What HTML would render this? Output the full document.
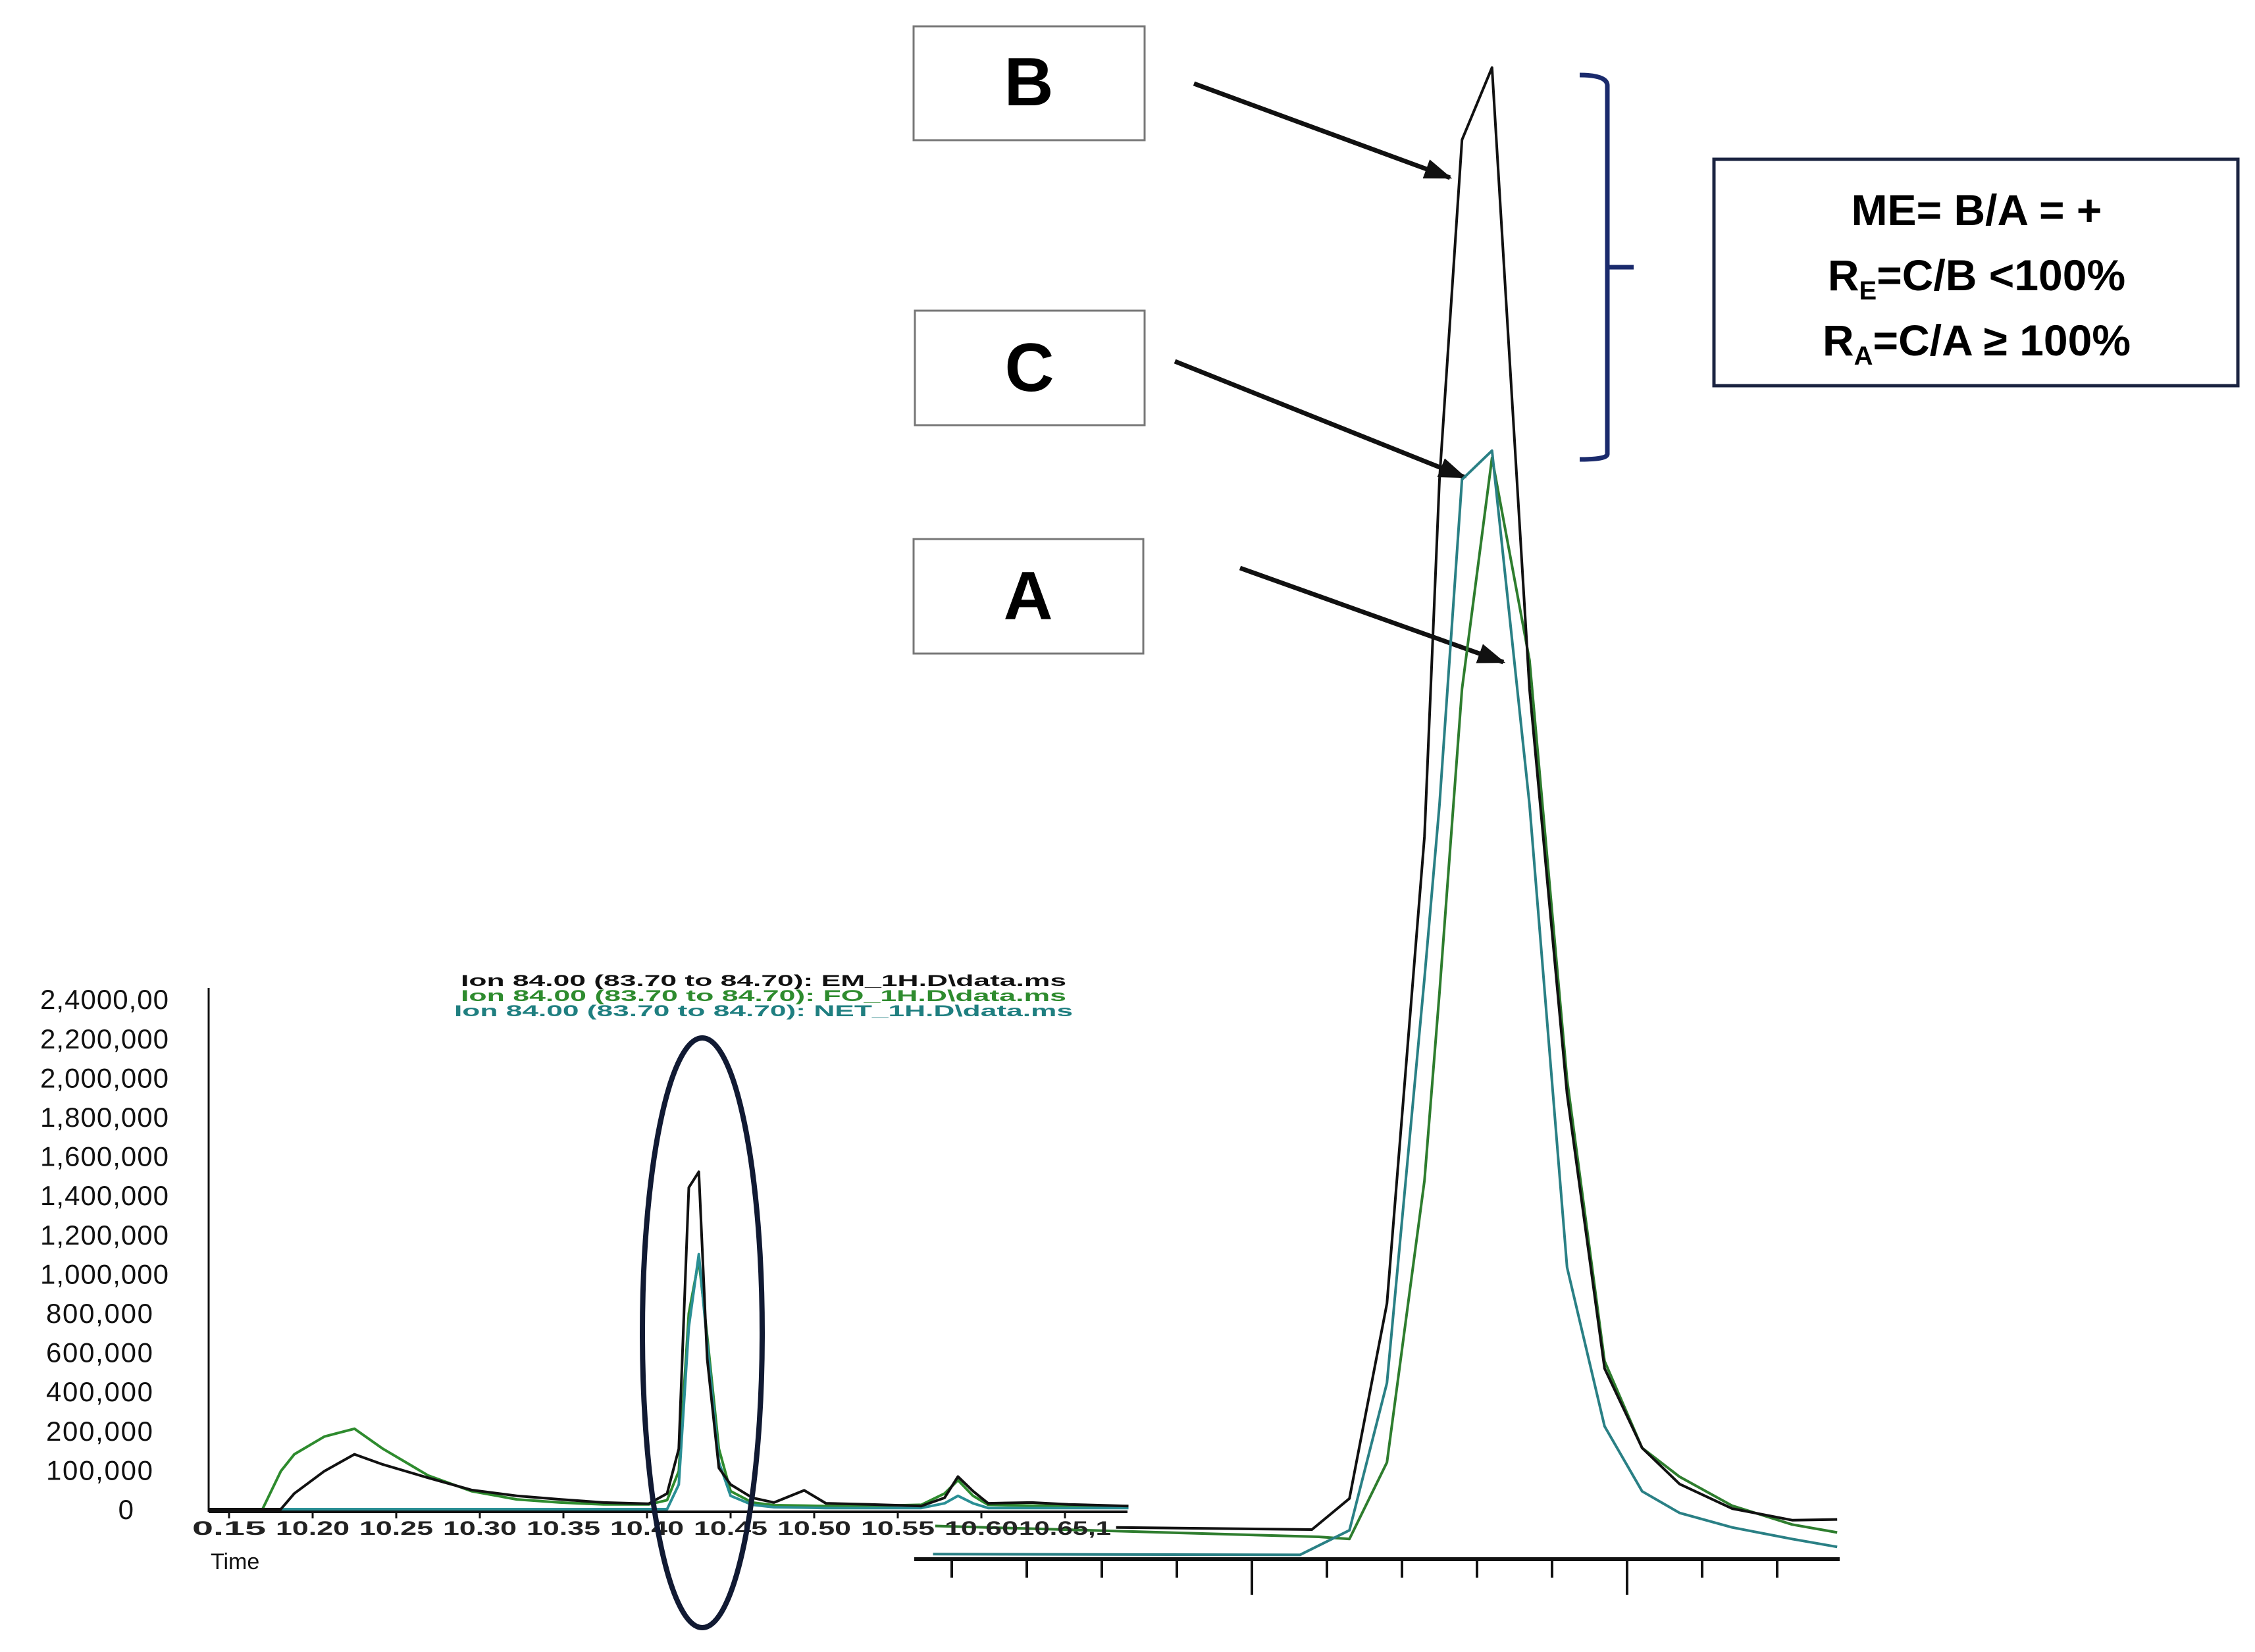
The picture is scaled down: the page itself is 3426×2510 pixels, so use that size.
<!DOCTYPE html>
<html><head><meta charset="utf-8">
<style>
html,body{margin:0;padding:0;background:#fff;}
svg{display:block;}
text{font-family:"Liberation Sans",sans-serif;}
</style></head>
<body>
<svg id="fig" width="3426" height="2510" viewBox="0 0 3426 2510" xmlns="http://www.w3.org/2000/svg">
  <defs>
    <marker id="ah" markerWidth="6" markerHeight="4.4" refX="5.5" refY="2.2" orient="auto" markerUnits="strokeWidth">
      <path d="M0,0 L6,2.2 L0,4.4 Z" fill="#111"/>
    </marker>
  </defs>
  <g>
    <rect x="1388" y="40" width="351" height="173" fill="#fff" stroke="#777" stroke-width="3"/>
    <text x="1563" y="160" text-anchor="middle" font-size="104" font-weight="bold">B</text>
  </g>
  <g>
    <rect x="1390" y="472" width="349" height="174" fill="#fff" stroke="#777" stroke-width="3"/>
    <text x="1564" y="594" text-anchor="middle" font-size="104" font-weight="bold">C</text>
  </g>
  <g>
    <rect x="1388" y="819" width="349" height="174" fill="#fff" stroke="#777" stroke-width="3"/>
    <text x="1562" y="941" text-anchor="middle" font-size="104" font-weight="bold">A</text>
  </g>
  <line x1="1814" y1="127" x2="2203" y2="270" stroke="#111" stroke-width="7" marker-end="url(#ah)"/>
  <line x1="1785" y1="549" x2="2225" y2="725" stroke="#111" stroke-width="7" marker-end="url(#ah)"/>
  <line x1="1884" y1="863" x2="2284" y2="1006" stroke="#111" stroke-width="7" marker-end="url(#ah)"/>
  <path d="M2400,114 Q2442,114 2442,130 L2442,690 Q2442,698 2400,698 M2442,406 L2482,406" fill="none" stroke="#1a2a6c" stroke-width="7"/>
  <g>
    <rect x="2604" y="242" width="796" height="344" fill="#fff" stroke="#1a2340" stroke-width="5"/>
    <text x="3003" y="342" text-anchor="middle" font-size="66" font-weight="bold">ME= B/A = +</text>
    <text x="3003" y="441" text-anchor="middle" font-size="66" font-weight="bold">R<tspan font-size="40" dy="14">E</tspan><tspan dy="-14">=C/B &lt;100%</tspan></text>
    <text x="3003" y="540" text-anchor="middle" font-size="66" font-weight="bold">R<tspan font-size="40" dy="14">A</tspan><tspan dy="-14">=C/A ≥ 100%</tspan></text>
  </g>
  <g id="big"></g>
  <g id="small"></g>
  <ellipse cx="1067" cy="2025" rx="91" ry="448" fill="none" stroke="#111a33" stroke-width="8"/>
</svg>
<script>
// ---- small chromatogram data ----
const smallTimes = [10.138,10.170,10.181,10.189,10.207,10.225,10.242,10.269,10.295,10.322,10.348,10.374,10.401,10.412,10.419,10.425,10.431,10.436,10.443,10.450,10.463,10.476,10.494,10.507,10.533,10.564,10.578,10.586,10.595,10.604,10.630,10.652,10.688];
const smallBlack = [0,0,0,40000,97000,140000,114000,80000,49000,34000,25000,17000,14000,40000,154000,1440000,1520000,568000,105000,63000,29000,17000,48000,15000,12000,8000,29000,83000,46000,15000,17000,12000,8000];
const smallGreen = [0,0,97000,140000,185000,210000,154000,86000,46000,25000,17000,12000,12000,23000,97000,798000,1070000,683000,154000,46000,17000,10000,9000,8000,8000,11000,40000,74000,34000,11000,9000,8000,8000];
const smallTeal = [0,0,0,0,0,0,0,0,0,0,0,0,0,0,63000,729000,1100000,650000,120000,34000,11000,5000,4000,3000,3000,3000,15000,34000,15000,3000,3000,3000,3000];
const yTickValues = [0,100000,200000,400000,600000,800000,1000000,1200000,1400000,1600000,1800000,2000000,2200000,2400000];
const yTickLabels = ["0","100,000","200,000","400,000","600,000","800,000","1,000,000","1,200,000","1,400,000","1,600,000","1,800,000","2,000,000","2,200,000","2,4000,00"];
const xTickValues = [10.15,10.20,10.25,10.30,10.35,10.40,10.45,10.50,10.55,10.60,10.65];
const xTickLabels = ["0.15","10.20","10.25","10.30","10.35","10.40","10.45","10.50","10.55","10.60","10.65,1"];
const legendLabels = ["Ion  84.00 (83.70 to 84.70): EM_1H.D\\data.ms","Ion  84.00 (83.70 to 84.70): FO_1H.D\\data.ms","Ion  84.00 (83.70 to 84.70): NET_1H.D\\data.ms"];
// ---- enlarged peak data ----
const bigBlackTimes = [10.4219,10.448,10.453,10.458,10.463,10.465,10.468,10.472,10.477,10.482,10.487,10.492,10.497,10.504,10.512,10.518];
const bigBlack = [44000,41000,84000,354000,1000000,1494000,1964000,2064000,1204000,644000,264000,154000,104000,70000,54000,55000];
const bigGreenTimes = [10.3978,10.4489,10.453,10.458,10.463,10.465,10.468,10.472,10.477,10.482,10.487,10.492,10.497,10.504,10.512,10.518];
const bigGreen = [46000,31000,28000,134000,524000,784000,1204000,1524000,1244000,664000,274000,154000,114000,74000,48000,37000];
const bigTealTimes = [10.3975,10.4464,10.453,10.458,10.463,10.465,10.468,10.472,10.477,10.482,10.487,10.492,10.497,10.504,10.512,10.518];
const bigTeal = [7000,6000,40000,244000,804000,1044000,1494000,1534000,1044000,404000,184000,94000,64000,44000,28000,17000];
const bigTicks = [10.40,10.41,10.42,10.43,10.44,10.45,10.46,10.47,10.48,10.49,10.50,10.51];
const bigMajor = [10.44,10.49];

const NS="http://www.w3.org/2000/svg";
function mk(tag, attrs, parent){const e=document.createElementNS(NS,tag);for(const k in attrs)e.setAttribute(k,attrs[k]);parent.appendChild(e);return e;}

const sX0=348, sXper=2540, sY0=2293, sTickSp=59.6;
function sx(t){return sX0+(t-10.15)*sXper;}
function sy(v){
  for(let i=0;i<yTickValues.length-1;i++){
    const a=yTickValues[i], b=yTickValues[i+1];
    if(v<=b||i===yTickValues.length-2){const f=(v-a)/(b-a);return sY0-(i+f)*sTickSp;}
  }
}
const small=document.getElementById('small');
const yAxis=mk('line',{x1:317,y1:1501,x2:317,y2:2297,stroke:'#111','stroke-width':3},small);


const xAxis=mk('line',{x1:317,y1:2297,x2:1713,y2:2297,stroke:'#111','stroke-width':4},small);


yTickValues.forEach((v,i)=>{
  const tx=mk('text',{x:i===0?203:(i<6?232:256),y:sy(v)+15,'font-size':42,fill:'#111','text-anchor':'end'},small);
  if(i>0) tx.setAttribute('textLength', yTickLabels[i].length>=9?195:162);
  tx.textContent=yTickLabels[i];
  
  
});
xTickValues.forEach((v,i)=>{
  const tx=mk('text',{x:sx(v),y:2332,'font-size':30,'font-weight':'bold','text-anchor':'middle',fill:'#222','font-family':'Liberation Mono, monospace',textLength:i===10?140:112,lengthAdjust:'spacingAndGlyphs'},small);
  tx.textContent=xTickLabels[i];
  
  
  const tk=mk('line',{x1:sx(v),y1:2297,x2:sx(v),y2:2307,stroke:'#111','stroke-width':3},small);
  
  
});
const tl=mk('text',{x:320,y:2384,'font-size':34,fill:'#111'},small);
tl.textContent='Time';


const legColors=['#111','#2e8b2e','#1f7f80'];
legendLabels.forEach((s,i)=>{
  const tx=mk('text',{x:1160,y:1498+i*23,'font-size':24,'font-weight':'bold','text-anchor':'middle',fill:legColors[i],'font-family':'Liberation Mono, monospace',textLength:940-(i===2?0:20),lengthAdjust:'spacingAndGlyphs'},small);
  tx.textContent=s;
  
  
});
function line(parent,xs,ys,fx,fy,color,w,name){
  const d=xs.map((t,i)=>(i?'L':'M')+fx(t).toFixed(1)+','+fy(ys[i]).toFixed(1)).join(' ');
  const p=mk('path',{d:d,fill:'none',stroke:color,'stroke-width':w,'stroke-linejoin':'round'},parent);
  
  
}
line(small,smallTimes,smallGreen,sx,sy,'#2e8b2e',4,'series-fo-small');
line(small,smallTimes,smallTeal,sx,sy,'#2a8f95',4,'series-net-small');
line(small,smallTimes,smallBlack,sx,sy,'#111',4,'series-em-small');

const big=document.getElementById('big');
function bx(t){return 1446+(t-10.40)*11400;}
function by(v){return 2369-v/2000*2.196;}
const bAxis=mk('line',{x1:1389,y1:2369,x2:2795,y2:2369,stroke:'#111','stroke-width':6},big);


bigTicks.forEach(t=>{
  const major=bigMajor.some(m=>Math.abs(m-t)<1e-6);
  const tk=mk('line',{x1:bx(t),y1:2369,x2:bx(t),y2:major?2423:2397,stroke:'#111','stroke-width':4},big);
  
  
});
line(big,bigGreenTimes,bigGreen,bx,by,'#2e7d2e',4,'series-a-peak');
line(big,bigTealTimes,bigTeal,bx,by,'#2a8085',4,'series-c-peak');
line(big,bigBlackTimes,bigBlack,bx,by,'#111',4,'series-b-peak');
</script>
</body></html>
